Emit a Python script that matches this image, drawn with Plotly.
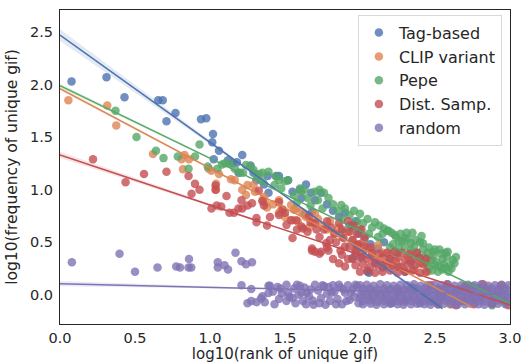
import plotly.graph_objects as go

series_names = ["Tag-based", "CLIP variant", "Pepe", "Dist. Samp.", "random"]
colors = ["#4C72B0", "#DD8452", "#55A868", "#C44E52", "#8172B3"]

# (log10 rank, log10 frequency) points (jittered as drawn)
tag_pts = [
    (0.077, 2.03), (0.31, 2.07), (0.43, 1.88), (0.655, 1.85), (0.685, 1.85), (0.77, 1.73),
    (0.71, 1.65), (0.94, 1.67), (0.975, 1.68), (1.02, 1.53), (1.015, 1.45), (1.06, 1.37),
    (1.025, 1.29), (1.12, 1.28), (1.215, 1.33), (1.15, 1.25), (1.18, 1.26), (1.19, 1.16),
    (1.27, 1.23), (1.29, 1.16), (1.31, 1.09), (1.385, 1.13), (1.44, 1.13), (1.46, 1.13),
    (1.39, 0.97), (1.52, 1.09), (1.60, 1.00), (1.64, 1.05), (1.61, 0.92), (1.675, 0.97),
    (1.74, 0.97), (1.63, 0.77), (1.97, 0.70), (1.36, 1.05), (1.55, 0.98), (1.70, 0.90),
    (1.68, 0.79), (1.78, 0.86), (1.82, 0.80), (1.86, 0.74), (1.90, 0.78), (1.93, 0.66),
    (1.88, 0.60), (1.99, 0.58), (2.03, 0.53), (2.07, 0.48), (2.12, 0.44), (2.16, 0.50),
    (1.95, 0.35), (2.01, 0.36), (2.05, 0.22), (2.06, 0.21), (2.10, 0.30), (2.15, 0.26),
    (2.20, 0.34), (2.25, 0.27), (2.30, 0.22), (2.34, 0.31), (2.21, -0.08), (2.25, 0.04),
    (2.30, -0.05), (2.35, 0.07), (2.40, -0.08), (2.44, 0.02), (2.49, -0.06), (2.53, 0.05),
    (2.55, -0.02),
]
clip_pts = [
    (0.056, 1.85), (0.315, 1.80), (0.375, 1.61), (0.62, 1.34), (0.83, 1.33), (0.81, 1.29),
    (0.86, 1.29), (0.82, 1.195), (0.99, 1.20), (1.01, 1.18), (1.06, 1.15), (1.04, 1.055),
    (1.04, 1.00), (1.14, 1.10), (1.165, 1.09), (1.215, 1.00), (1.24, 0.95), (1.25, 1.045),
    (1.29, 1.045), (1.30, 0.98), (1.35, 0.90), (1.37, 0.88), (1.36, 0.93), (1.38, 0.83),
    (1.46, 0.90), (1.475, 0.81), (1.46, 0.78), (1.485, 0.81), (1.54, 0.855), (1.56, 0.81),
    (1.575, 0.82), (1.61, 0.79), (1.55, 0.71), (1.585, 0.70), (1.70, 0.77), (1.685, 0.69),
    (1.42, 0.86), (1.50, 0.74), (1.64, 0.74), (1.66, 0.64), (1.72, 0.72), (1.75, 0.66),
    (1.78, 0.62), (1.80, 0.70), (1.83, 0.58), (1.86, 0.64), (1.88, 0.55), (1.92, 0.60),
    (1.95, 0.52), (1.98, 0.47), (2.02, 0.50), (2.05, 0.45), (2.08, 0.40), (2.12, 0.47),
    (2.15, 0.40), (2.20, 0.38), (2.24, 0.32), (2.28, 0.26), (2.32, 0.36), (2.36, 0.24),
    (2.40, 0.30), (2.45, 0.22), (2.48, 0.33), (2.52, -0.04), (2.56, 0.06), (2.60, -0.09),
    (2.64, 0.03), (2.68, -0.06), (2.72, 0.08), (2.75, -0.02),
]
pepe_pts = [
    (0.37, 1.75), (0.51, 1.50), (0.64, 1.37), (0.69, 1.30), (0.785, 1.315), (0.93, 1.43),
    (0.90, 1.315), (0.857, 1.20), (0.985, 1.22), (1.05, 1.20), (1.08, 1.24), (1.10, 1.25),
    (1.13, 1.25), (1.165, 1.20), (1.20, 1.16), (1.22, 1.16), (1.24, 1.235), (1.27, 1.22),
    (1.29, 1.19), (1.31, 1.14), (1.33, 1.15), (1.35, 1.16), (1.39, 1.17), (1.35, 1.08),
    (1.44, 1.125), (1.46, 1.09), (1.50, 1.08), (1.43, 1.045), (1.475, 1.01), (1.52, 1.09),
    (1.60, 1.01), (1.63, 1.00), (1.61, 0.98), (1.70, 0.98), (1.73, 1.00), (1.76, 0.97),
    (1.56, 0.95), (1.58, 0.88), (1.65, 0.92), (1.67, 0.85), (1.72, 0.90), (1.75, 0.82),
    (1.79, 0.92), (1.82, 0.86), (1.85, 0.80), (1.875, 0.855), (1.88, 0.72), (1.90, 0.82),
    (1.93, 0.76), (1.96, 0.80), (1.98, 0.70), (2.00, 0.77), (2.02, 0.68), (2.05, 0.72),
    (2.08, 0.64), (2.10, 0.69), (2.13, 0.66), (2.15, 0.58), (2.18, 0.61), (2.21, 0.59),
    (2.24, 0.55), (2.27, 0.58), (2.31, 0.59), (2.35, 0.59), (2.37, 0.52), (2.30, 0.46),
    (2.26, 0.44), (2.34, 0.42), (2.40, 0.50), (2.42, 0.43), (2.45, 0.40), (2.485, 0.41),
    (2.53, 0.43), (2.585, 0.41), (2.47, 0.33), (2.50, 0.28), (2.55, 0.34), (2.57, 0.26),
    (2.61, 0.25), (2.62, 0.33), (2.63, 0.30), (2.59, 0.22), (2.52, 0.22), (2.46, 0.25),
    (2.39, 0.36), (2.44, 0.30), (2.22, 0.48), (2.25, 0.40), (2.28, 0.51), (2.32, 0.53),
    (2.36, 0.46), (2.38, 0.40), (2.41, 0.56), (2.20, 0.45), (2.12, 0.55), (2.06, 0.58),
    (2.00, 0.62), (1.95, 0.64), (2.16, 0.63), (2.19, 0.61), (2.23, 0.57),
    (2.49, 0.37), (2.51, 0.31), (2.54, 0.39), (2.56, 0.29), (2.58, 0.36), (2.60, 0.28),
    (2.48, 0.23), (2.55, 0.24), (2.64, 0.36), (2.50, 0.43), (2.43, 0.36), (2.46, 0.45),
    (2.34, 0.49), (2.30, 0.54), (2.26, 0.51), (2.42, 0.49), (2.57, 0.40), (2.53, 0.27),
    (2.66, 0.05), (2.70, -0.06), (2.75, 0.08), (2.80, -0.03), (2.85, 0.06), (2.88, -0.10),
    (2.93, 0.02), (2.97, -0.07),
]
dist_pts = [
    (0.22, 1.29), (0.437, 1.07), (0.56, 1.15), (0.71, 1.17), (0.857, 1.13), (0.90, 1.055),
    (0.93, 1.00), (0.877, 0.96), (1.037, 1.04), (1.037, 1.00), (1.11, 0.94), (1.01, 0.82),
    (1.045, 0.85), (1.075, 0.84), (1.13, 0.78), (1.16, 0.78), (1.19, 0.82), (1.215, 0.82),
    (1.21, 0.90), (1.25, 0.85), (1.28, 0.87), (1.31, 0.73), (1.31, 0.69), (1.325, 0.99),
    (1.35, 0.89), (1.36, 0.85), (1.38, 0.66), (1.40, 0.74), (1.46, 0.88), (1.46, 0.76),
    (1.485, 0.81), (1.50, 0.78), (1.51, 0.665), (1.54, 0.71), (1.55, 0.54), (1.575, 0.71),
    (1.58, 0.62), (1.61, 0.65), (1.62, 0.63), (1.65, 0.60), (1.66, 0.75), (1.67, 0.69),
    (1.68, 0.44), (1.70, 0.68), (1.71, 0.62), (1.73, 0.55), (1.70, 0.41), (1.74, 0.41),
    (1.76, 0.62), (1.775, 0.49), (1.80, 0.52), (1.78, 0.70), (1.81, 0.64), (1.83, 0.58),
    (1.84, 0.50), (1.86, 0.68), (1.88, 0.62), (1.89, 0.54), (1.90, 0.46), (1.92, 0.70),
    (1.93, 0.60), (1.95, 0.52), (1.96, 0.66), (1.98, 0.58), (1.99, 0.48), (2.01, 0.62),
    (2.03, 0.55), (1.87, 0.42), (1.97, 0.42), (1.82, 0.34), (1.86, 0.30), (1.90, 0.27),
    (1.88, 0.38), (1.92, 0.34), (1.78, 0.45), (1.73, 0.39), (1.79, 0.42), (1.68, 0.42),
    (2.00, 0.22), (2.05, 0.23), (2.10, 0.21), (2.15, 0.22), (2.20, 0.23), (2.25, 0.21),
    (2.30, 0.22), (2.35, 0.23), (2.40, 0.21), (2.44, 0.22),
    (1.97, 0.28), (2.02, 0.29), (2.07, 0.27), (2.12, 0.28), (2.17, 0.29), (2.22, 0.28),
    (2.27, 0.27), (2.32, 0.29), (2.37, 0.28), (2.42, 0.29),
    (1.95, 0.34), (2.00, 0.35), (2.05, 0.34), (2.10, 0.33), (2.15, 0.35), (2.20, 0.34),
    (2.25, 0.35), (2.30, 0.33), (2.35, 0.34), (2.40, 0.35), (2.44, 0.34),
    (1.97, 0.40), (2.02, 0.41), (2.08, 0.40), (2.13, 0.39), (2.18, 0.40), (2.23, 0.41),
    (2.28, 0.40), (2.33, 0.39), (2.38, 0.40),
    (1.93, 0.46), (1.98, 0.47), (2.03, 0.46), (2.07, 0.45),
    (2.47, 0.09), (2.52, -0.09), (2.58, 0.10), (2.64, -0.10), (2.70, 0.08), (2.76, -0.09),
    (2.82, 0.10), (2.88, -0.08), (2.94, 0.09), (2.99, -0.10),
]
random_pts = [
    (0.079, 0.31), (0.397, 0.39), (0.50, 0.22), (0.65, 0.26), (0.775, 0.27), (0.80, 0.26),
    (0.86, 0.34), (0.857, 0.26), (0.875, 0.26), (1.052, 0.31), (1.052, 0.26), (1.097, 0.28),
    (1.12, 0.24), (1.17, 0.40), (1.21, 0.32), (1.24, 0.29), (1.28, 0.31), (1.21, 0.09),
    (1.275, 0.054), (1.25, -0.08), (1.275, -0.06), (1.31, -0.07), (1.34, -0.035), (1.35, -0.015),
    (1.39, 0.085), (1.39, 0.016), (1.45, 0.073), (1.46, -0.04), (1.51, -0.06), (1.51, 0.095),
    (1.52, 0.016), (1.60, 0.085), (1.59, 0.0), (1.645, 0.016), (1.66, -0.015), (1.685, -0.055),
    (1.70, 0.095), (1.69, -0.095), (1.77, -0.095), (1.365, -0.07), (1.48, 0.012), (1.53, -0.02),
    (1.40, 0.085), (1.72, 0.04), (1.74, -0.03), (1.76, 0.08), (1.78, 0.01), (1.80, -0.06),
    (1.82, 0.09), (1.83, 0.03), (1.85, -0.04), (1.87, 0.07), (1.88, -0.09), (1.90, 0.02),
    (1.92, 0.09), (1.93, -0.05), (1.95, 0.05), (1.96, -0.02), (1.98, 0.08), (1.99, -0.08),
    (1.56, 0.06), (1.57, -0.08), (1.63, 0.07), (1.62, -0.06), (1.43, -0.09), (1.42, 0.03),
    (1.55, -0.03), (1.67, 0.05), (1.73, -0.08), (1.81, 0.02),
    (1.86, 0.095), (1.89, 0.05), (1.91, -0.06), (1.94, 0.02), (1.97, 0.095), (1.75, 0.09),
    (1.79, 0.075), (1.84, -0.09), (1.61, 0.02), (1.64, -0.09), (1.47, 0.06), (1.58, 0.095),
    (2.00, 0.09), (2.045, 0.095), (2.09, 0.085), (2.135, 0.10), (2.18, 0.09), (2.225, 0.085),
    (2.27, 0.095), (2.315, 0.09), (2.36, 0.10), (2.405, 0.085), (2.45, 0.09), (2.495, 0.095),
    (2.54, 0.09), (2.585, 0.10), (2.63, 0.085), (2.675, 0.09), (2.72, 0.095), (2.765, 0.09),
    (2.81, 0.10), (2.855, 0.085), (2.90, 0.09), (2.945, 0.095), (2.99, 0.09),
    (2.02, 0.055), (2.065, 0.06), (2.115, 0.05), (2.16, 0.06), (2.205, 0.055), (2.25, 0.06),
    (2.295, 0.05), (2.34, 0.06), (2.385, 0.055), (2.43, 0.06), (2.475, 0.05), (2.52, 0.06),
    (2.565, 0.055), (2.61, 0.06), (2.655, 0.05), (2.70, 0.06), (2.745, 0.055), (2.79, 0.06),
    (2.835, 0.05), (2.88, 0.06), (2.925, 0.055), (2.97, 0.06),
    (2.02, 0.03), (2.07, 0.035), (2.11, 0.025), (2.16, 0.03), (2.20, 0.04), (2.25, 0.025),
    (2.29, 0.03), (2.34, 0.035), (2.38, 0.03), (2.43, 0.025), (2.47, 0.035), (2.52, 0.03),
    (2.56, 0.025), (2.61, 0.035), (2.65, 0.03), (2.70, 0.025), (2.74, 0.03), (2.79, 0.035),
    (2.83, 0.03), (2.88, 0.025), (2.92, 0.03), (2.97, 0.035),
    (2.00, 0.0), (2.045, 0.005), (2.09, -0.005), (2.135, 0.0), (2.18, 0.005), (2.225, -0.005),
    (2.27, 0.0), (2.315, 0.005), (2.36, -0.005), (2.405, 0.0), (2.45, 0.005), (2.495, -0.005),
    (2.54, 0.0), (2.585, 0.005), (2.63, -0.005), (2.675, 0.0), (2.72, 0.005), (2.765, -0.005),
    (2.81, 0.0), (2.855, 0.005), (2.90, -0.005), (2.945, 0.0), (2.99, 0.005),
    (2.00, -0.03), (2.05, -0.025), (2.09, -0.035), (2.14, -0.03), (2.18, -0.025), (2.23, -0.03),
    (2.27, -0.035), (2.32, -0.03), (2.36, -0.025), (2.41, -0.03), (2.45, -0.035), (2.50, -0.03),
    (2.54, -0.025), (2.59, -0.03), (2.63, -0.035), (2.68, -0.03), (2.72, -0.025), (2.77, -0.03),
    (2.81, -0.035), (2.86, -0.03), (2.90, -0.025), (2.95, -0.03), (2.99, -0.035),
    (2.02, -0.06), (2.065, -0.055), (2.115, -0.065), (2.16, -0.06), (2.205, -0.055), (2.25, -0.06),
    (2.295, -0.065), (2.34, -0.06), (2.385, -0.055), (2.43, -0.06), (2.475, -0.065), (2.52, -0.06),
    (2.565, -0.055), (2.61, -0.06), (2.655, -0.065), (2.70, -0.06), (2.745, -0.055), (2.79, -0.06),
    (2.835, -0.065), (2.88, -0.06), (2.925, -0.055), (2.97, -0.06),
    (2.02, -0.09), (2.07, -0.085), (2.11, -0.095), (2.16, -0.09), (2.20, -0.085), (2.25, -0.09),
    (2.29, -0.095), (2.34, -0.09), (2.38, -0.085), (2.43, -0.09), (2.47, -0.095), (2.52, -0.09),
    (2.56, -0.085), (2.61, -0.09), (2.65, -0.095), (2.70, -0.09), (2.74, -0.085), (2.79, -0.09),
    (2.83, -0.095), (2.88, -0.09), (2.92, -0.085), (2.97, -0.09),
]
all_pts = [tag_pts, clip_pts, pepe_pts, dist_pts, random_pts]

# regression fits: intercept, slope, last x
fit_intercept = [2.47, 1.96, 1.99, 1.33, 0.105]
fit_slope = [-1.02, -0.756, -0.691, -0.476, -0.034]
fit_x_end = [2.55, 2.75, 3.0, 3.0, 3.0]
# confidence band half-widths at start, middle and end of each fit
ci_start = [0.055, 0.02, 0.02, 0.03, 0.025]
ci_mid = [0.008, 0.004, 0.004, 0.004, 0.003]
ci_end = [0.02, 0.01, 0.01, 0.008, 0.005]

text_color = "#262626"
font_family = "DejaVu Sans, Verdana, sans-serif"


def rgba(hex_color, a):
    h = hex_color.lstrip("#")
    r, g, b = int(h[0:2], 16), int(h[2:4], 16), int(h[4:6], 16)
    return f"rgba({r},{g},{b},{a})"


fig = go.Figure()

for name, col, pts in zip(series_names, colors, all_pts):
    fig.add_trace(go.Scatter(
        x=[p[0] for p in pts], y=[p[1] for p in pts],
        mode="markers", name=name, legendgroup=name,
        marker=dict(size=8.5, color=col, opacity=0.8, line=dict(width=0)),
    ))

for i, col in enumerate(colors):
    b, m, xe = fit_intercept[i], fit_slope[i], fit_x_end[i]
    xs = [0.0, xe / 2, xe]
    ws = [ci_start[i], ci_mid[i], ci_end[i]]
    ys = [b + m * x for x in xs]
    up = [y + w for y, w in zip(ys, ws)]
    lo = [y - w for y, w in zip(ys, ws)]
    fig.add_trace(go.Scatter(
        x=xs + xs[::-1], y=up + lo[::-1], fill="toself", mode="lines",
        line=dict(width=0), fillcolor=rgba(col, 0.15), hoverinfo="skip", showlegend=False,
    ))

for i, col in enumerate(colors):
    b, m, xe = fit_intercept[i], fit_slope[i], fit_x_end[i]
    fig.add_trace(go.Scatter(
        x=[0.0, xe], y=[b, b + m * xe], mode="lines",
        line=dict(color=col, width=1.5), hoverinfo="skip", showlegend=False,
    ))

axis_common = dict(
    showgrid=False, zeroline=False, showline=True, mirror=True,
    linecolor=text_color, linewidth=1.25, automargin=False,
    tickcolor="rgba(0,0,0,0)",
    tickfont=dict(size=14.5, color=text_color, family=font_family),
    tickformat=".1f",
)

fig.update_layout(
    width=524, height=363,
    margin=dict(l=60, r=14, t=10, b=39),
    paper_bgcolor="white", plot_bgcolor="white",
    font=dict(family=font_family, color=text_color),
    xaxis=dict(range=[0, 3.0], tickvals=[0, 0.5, 1.0, 1.5, 2.0, 2.5, 3.0],
               ticks="", ticklen=0,
               title=dict(text="log10(rank of unique gif)", font=dict(size=15, color=text_color), standoff=0),
               **axis_common),
    yaxis=dict(range=[-0.278, 2.709], tickvals=[0, 0.5, 1.0, 1.5, 2.0, 2.5],
               ticks="outside", ticklen=3,
               title=dict(text="log10(frequency of unique gif)", font=dict(size=15.5, color=text_color), standoff=8),
               **axis_common),
    legend=dict(x=0.982, y=0.985, xanchor="right", yanchor="top",
                bgcolor="rgba(255,255,255,0.8)", bordercolor="#d9d9d9", borderwidth=1,
                font=dict(size=16, color=text_color, family=font_family),
                traceorder="grouped", tracegroupgap=0),
    showlegend=True,
)

fig.write_html("out.html", config={"displayModeBar": False},
               post_script="document.body.style.margin='0';")
